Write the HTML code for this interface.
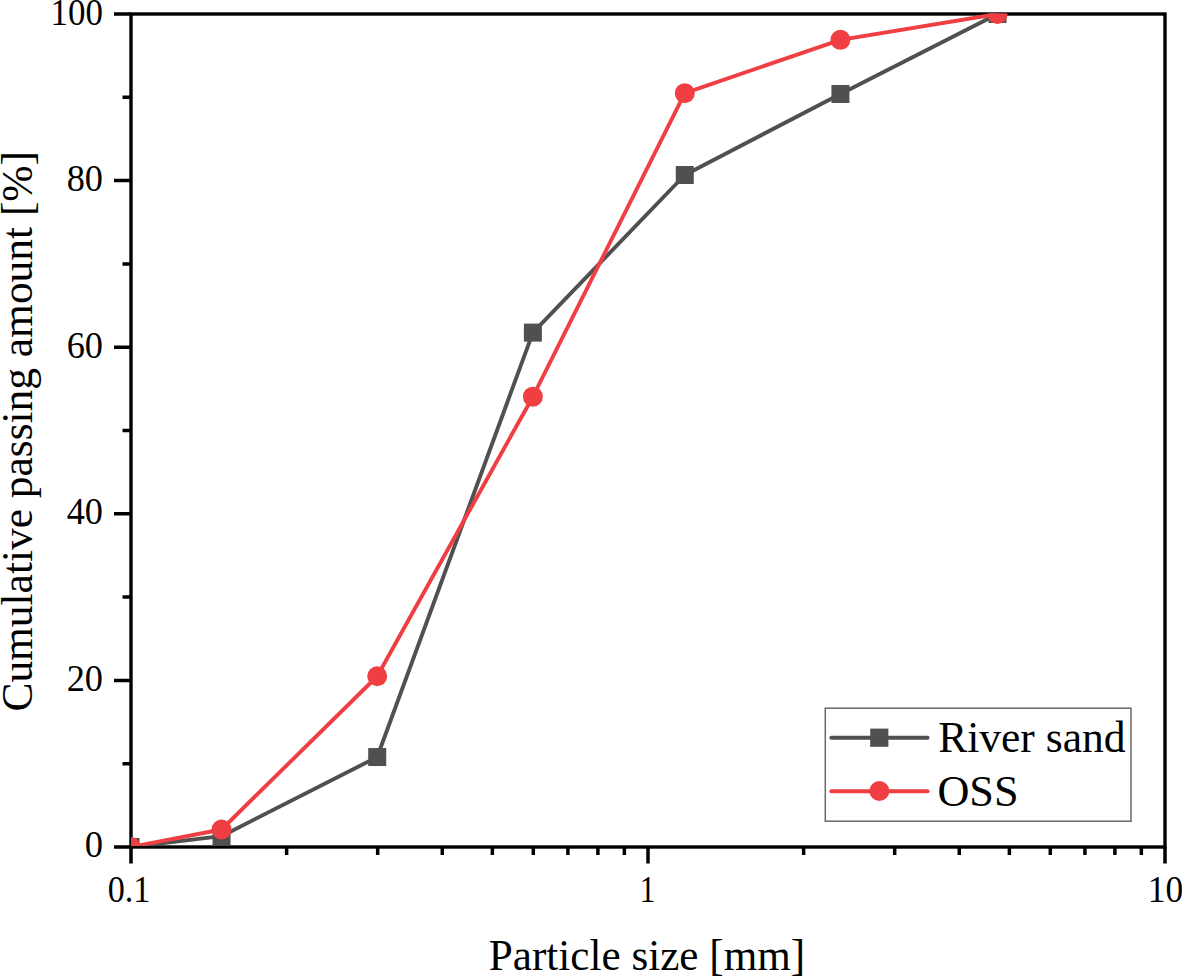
<!DOCTYPE html><html><head><meta charset="utf-8"><style>html,body{margin:0;padding:0;background:#fff;}svg{display:block;}text{font-family:"Liberation Serif",serif;fill:#000;}</style></head><body>
<svg width="1182" height="979" viewBox="0 0 1182 979">
<rect width="1182" height="979" fill="#fff"/>
<defs><clipPath id="c"><rect x="131.00" y="13.40" width="1034.00" height="832.40"/></clipPath></defs>
<path d="M114.00 847.00H131.00M114.00 680.40H131.00M114.00 513.80H131.00M114.00 347.20H131.00M114.00 180.60H131.00M114.00 14.00H131.00M122.50 763.70H131.00M122.50 597.10H131.00M122.50 430.50H131.00M122.50 263.90H131.00M122.50 97.30H131.00M131.00 847.00V863.50M648.00 847.00V863.50M1165.00 847.00V863.50M286.63 847.00V855.00M377.67 847.00V855.00M442.27 847.00V855.00M492.37 847.00V855.00M533.30 847.00V855.00M567.92 847.00V855.00M597.90 847.00V855.00M624.34 847.00V855.00M803.63 847.00V855.00M894.67 847.00V855.00M959.27 847.00V855.00M1009.37 847.00V855.00M1050.30 847.00V855.00M1084.92 847.00V855.00M1114.90 847.00V855.00M1141.34 847.00V855.00" stroke="#000" stroke-width="3.50" fill="none"/>
<rect x="131.00" y="14.00" width="1034.00" height="833.00" fill="none" stroke="#000" stroke-width="3.40"/>
<g clip-path="url(#c)"><polyline points="130.50,847.00 221.56,836.17 377.22,757.04 532.88,332.62 684.77,175.02 840.43,93.97 997.52,14.00" fill="none" stroke="#505050" stroke-width="3.90" stroke-linejoin="round"/><rect x="121.50" y="838.00" width="18.00" height="18.00" fill="#505050"/><rect x="212.56" y="827.17" width="18.00" height="18.00" fill="#505050"/><rect x="368.22" y="748.04" width="18.00" height="18.00" fill="#505050"/><rect x="523.88" y="323.62" width="18.00" height="18.00" fill="#505050"/><rect x="675.77" y="166.02" width="18.00" height="18.00" fill="#505050"/><rect x="831.43" y="84.97" width="18.00" height="18.00" fill="#505050"/><rect x="988.52" y="5.00" width="18.00" height="18.00" fill="#505050"/></g>
<g clip-path="url(#c)"><polyline points="130.50,847.00 221.56,829.51 377.22,676.24 532.88,396.68 684.77,93.13 840.43,39.82 997.52,14.00" fill="none" stroke="#EF3F42" stroke-width="3.90" stroke-linejoin="round"/><circle cx="130.50" cy="847.00" r="10.00" fill="#EF3F42"/><circle cx="221.56" cy="829.51" r="10.00" fill="#EF3F42"/><circle cx="377.22" cy="676.24" r="10.00" fill="#EF3F42"/><circle cx="532.88" cy="396.68" r="10.00" fill="#EF3F42"/><circle cx="684.77" cy="93.13" r="10.00" fill="#EF3F42"/><circle cx="840.43" cy="39.82" r="10.00" fill="#EF3F42"/><circle cx="997.52" cy="14.00" r="10.00" fill="#EF3F42"/></g>
<text x="103" y="857.40" font-size="37" text-anchor="end" textLength="18.3" lengthAdjust="spacingAndGlyphs">0</text>
<text x="103" y="690.80" font-size="37" text-anchor="end" textLength="36.3" lengthAdjust="spacingAndGlyphs">20</text>
<text x="103" y="524.20" font-size="37" text-anchor="end" textLength="36.3" lengthAdjust="spacingAndGlyphs">40</text>
<text x="103" y="357.60" font-size="37" text-anchor="end" textLength="36.3" lengthAdjust="spacingAndGlyphs">60</text>
<text x="103" y="191.00" font-size="37" text-anchor="end" textLength="36.3" lengthAdjust="spacingAndGlyphs">80</text>
<text x="103" y="25.20" font-size="37" text-anchor="end" textLength="52.4" lengthAdjust="spacingAndGlyphs">100</text>
<text x="129.00" y="901.9" font-size="37" text-anchor="middle" textLength="42.7" lengthAdjust="spacingAndGlyphs">0.1</text>
<text x="647.40" y="901.9" font-size="37" text-anchor="middle" textLength="15.5" lengthAdjust="spacingAndGlyphs">1</text>
<text x="1165.60" y="901.9" font-size="37" text-anchor="middle" textLength="35.5" lengthAdjust="spacingAndGlyphs">10</text>
<text x="647" y="969.6" font-size="45" text-anchor="middle" textLength="316.4" lengthAdjust="spacingAndGlyphs">Particle size [mm]</text>
<text transform="translate(32,431.3) rotate(-90)" font-size="45" text-anchor="middle" textLength="560.5" lengthAdjust="spacingAndGlyphs">Cumulative passing amount [%]</text>
<rect x="825.3" y="708.2" width="305.7" height="113" fill="#fff" stroke="#686868" stroke-width="1.5"/>
<path d="M831.3 737.8H927.6" stroke="#505050" stroke-width="3.90" stroke-linecap="round"/>
<rect x="870.2" y="728.6" width="18.2" height="18.2" fill="#505050"/>
<path d="M831.3 791.2H927.6" stroke="#EF3F42" stroke-width="3.90" stroke-linecap="round"/>
<circle cx="879.4" cy="791" r="10" fill="#EF3F42"/>
<text x="938.2" y="752.4" font-size="45" textLength="187.3" lengthAdjust="spacingAndGlyphs">River sand</text>
<text x="937.4" y="805.8" font-size="45" textLength="81.1" lengthAdjust="spacingAndGlyphs">OSS</text>
</svg></body></html>
